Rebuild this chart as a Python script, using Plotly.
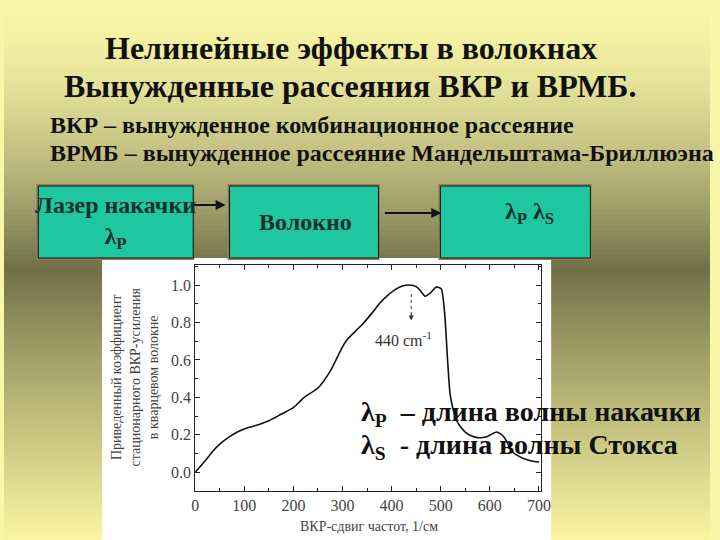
import plotly.graph_objects as go

# ---- data ----
shift = [0, 10, 20, 35, 50, 70, 90, 110, 130, 150, 175, 200, 222, 250, 275, 300, 310,
         325, 342, 360, 375, 392, 408, 422, 435, 451, 460, 468, 478, 491, 501, 508,
         514, 519, 524, 532, 541, 550, 561, 575, 594, 605, 614, 622, 630, 647, 660,
         673, 686, 700]
gain = [0.0, 0.03, 0.06, 0.11, 0.15, 0.19, 0.22, 0.24, 0.255, 0.275, 0.31, 0.345, 0.40,
        0.45, 0.54, 0.67, 0.71, 0.75, 0.795, 0.85, 0.90, 0.945, 0.977, 0.995, 1.0, 0.99,
        0.965, 0.94, 0.955, 0.99, 0.98, 0.85, 0.60, 0.42, 0.35, 0.28, 0.24, 0.215,
        0.196, 0.185, 0.19, 0.205, 0.215, 0.205, 0.185, 0.107, 0.085, 0.07, 0.06, 0.054]
x_ticks = [0, 100, 200, 300, 400, 500, 600, 700]
y_ticks = [0.0, 0.2, 0.4, 0.6, 0.8, 1.0]
peak_shift = 440

title1 = "Нелинейные эффекты в волокнах"
title2 = "Вынужденные рассеяния ВКР и ВРМБ."
sub1 = "ВКР – вынужденное комбинационное рассеяние"
sub2 = "ВРМБ – вынужденное рассеяние Мандельштама-Бриллюэна"
box_texts = ["Лазер накачки<br>λ<sub>P</sub>", "Волокно", "λ<sub>P</sub> λ<sub>S</sub>"]
legend1 = "λ<sub>P</sub>  – длина волны накачки"
legend2 = "λ<sub>S</sub>  - длина волны Стокса"
x_title = "ВКР-сдвиг частот, 1/см"
y_title = "Приведенный коэффициент<br>стационарного ВКР-усиления<br>в кварцевом волокне"

W, H = 720, 540
SERIF = "Liberation Serif"
BSERIF = "Liberation Serif, DejaVu Serif"


def px(x):
    return x / W


def py(y):
    return 1 - y / H


def lerp(c1, c2, t):
    return tuple(round(a + (b - a) * t) for a, b in zip(c1, c2))


def bfont(size, color="#111"):
    return dict(family=BSERIF, size=size, color=color, weight="bold")


light_top = (250, 246, 168)
dark = (112, 111, 72)
light_bot = (250, 245, 160)

shapes = []
# background gradient (yellow -> olive -> yellow)
n = 108
for i in range(n):
    y0 = i * H / n
    y1 = (i + 1) * H / n
    yc = (y0 + y1) / 2
    mid = 270
    if yc < mid:
        t = (yc / mid) ** 1.6
        c = lerp(light_top, dark, t)
    else:
        t = ((yc - mid) / (H - mid)) ** 0.9
        c = lerp(dark, light_bot, t)
    shapes.append(dict(type="rect", xref="paper", yref="paper", x0=0, x1=1,
                       y0=py(y1 + 0.5), y1=py(y0), fillcolor="rgb(%d,%d,%d)" % c,
                       line=dict(width=0), layer="below"))

# white panel for the chart
shapes.append(dict(type="rect", xref="paper", yref="paper", x0=px(100), x1=px(558),
                   y0=py(540), y1=py(258), fillcolor="white", line=dict(width=0),
                   layer="below"))

# boxes
boxes = [(35, 193), (230, 382), (445, 598)]
for (x0, x1) in boxes:
    shapes.append(dict(type="rect", xref="paper", yref="paper", x0=px(x0 - 2), x1=px(x1 + 1),
                       y0=py(260), y1=py(184), fillcolor="#9a7a52", line=dict(width=0),
                       layer="below"))
    shapes.append(dict(type="rect", xref="paper", yref="paper", x0=px(x0), x1=px(x1),
                       y0=py(258), y1=py(186), fillcolor="#1fc7a0",
                       line=dict(color="#111", width=1), layer="below"))

# dotted marker line for the 440 cm-1 peak
shapes.append(dict(type="line", xref="x", yref="y", x0=peak_shift, x1=peak_shift,
                   y0=0.84, y1=0.97, line=dict(color="#333", width=1, dash="dot")))

annotations = []
annotations.append(dict(text=title1, x=px(354), y=py(48), xref="paper",
                        yref="paper", showarrow=False, font=bfont(32),
                        xanchor="center", yanchor="middle"))
annotations.append(dict(text=title2, x=px(353), y=py(86), xref="paper",
                        yref="paper", showarrow=False, font=bfont(32),
                        xanchor="center", yanchor="middle"))
annotations.append(dict(text=sub1, x=px(45), y=py(125), xref="paper",
                        yref="paper", showarrow=False, font=bfont(24),
                        xanchor="left", yanchor="middle"))
annotations.append(dict(text=sub2, x=px(45), y=py(153), xref="paper",
                        yref="paper", showarrow=False, font=bfont(24),
                        xanchor="left", yanchor="middle"))

box_centers = [(114, 222), (307, 222), (536, 213)]
for (cx, cy), t in zip(box_centers, box_texts):
    annotations.append(dict(text=t, x=px(cx), y=py(cy), xref="paper",
                            yref="paper", showarrow=False,
                            font=bfont(24, "#10302a"),
                            xanchor="center", yanchor="middle"))

# arrows between boxes
for (xa, xb, yy) in [(193, 226, 205), (388, 446, 213)]:
    annotations.append(dict(text="", x=px(xb), y=py(yy), ax=-(xb - xa), ay=0,
                            xref="paper", yref="paper",
                            showarrow=True, arrowhead=2, arrowsize=1, arrowwidth=2,
                            arrowcolor="#111"))

# peak arrow head & label
annotations.append(dict(text="", x=peak_shift, y=0.81, ax=0, ay=-8, xref="x",
                        yref="y", showarrow=True, arrowhead=2,
                        arrowsize=1, arrowwidth=1, arrowcolor="#333"))
annotations.append(dict(text="440 cm<sup>-1</sup>", x=425, y=0.71, xref="x", yref="y",
                        showarrow=False, font=dict(family=SERIF, size=16, color="#333")))

# y-axis title (three lines, rotated)
annotations.append(dict(text=y_title, x=px(133), y=py(377), xref="paper", yref="paper",
                        textangle=-90, showarrow=False,
                        font=dict(family=SERIF, size=14, color="#444"),
                        xanchor="center", yanchor="middle"))
annotations.append(dict(text=x_title, x=px(372), y=py(526), xref="paper", yref="paper",
                        showarrow=False, font=dict(family=SERIF, size=14, color="#444"),
                        xanchor="center", yanchor="middle"))

# legend-like texts overlaying the chart
annotations.append(dict(text=legend1, x=px(362), y=py(413), xref="paper",
                        yref="paper", showarrow=False, font=bfont(28),
                        xanchor="left", yanchor="middle"))
annotations.append(dict(text=legend2, x=px(362), y=py(447), xref="paper",
                        yref="paper", showarrow=False, font=bfont(28),
                        xanchor="left", yanchor="middle"))

fig = go.Figure()
fig.add_trace(go.Scatter(x=shift, y=gain, mode="lines", line=dict(color="#111", width=1.6,
                                                                  shape="spline", smoothing=0.6),
                         showlegend=False, hoverinfo="skip"))

axis_common = dict(showgrid=False, zeroline=False, showline=True, linecolor="#222",
                   linewidth=1.2, mirror="ticks", ticks="inside", ticklen=5, tickcolor="#222",
                   tickfont=dict(family=SERIF, size=16, color="#444"))

fig.update_layout(
    width=W, height=H,
    margin=dict(l=0, r=0, t=0, b=0),
    paper_bgcolor="rgb(250,246,168)",
    plot_bgcolor="white",
    xaxis=dict(domain=[px(195), px(548)], range=[0, 705], tickvals=x_ticks,
               minor=dict(ticks="inside", dtick=50, ticklen=3, tickcolor="#222"),
               **axis_common),
    yaxis=dict(domain=[py(491), py(265)], range=[-0.1, 1.107], tickvals=y_ticks,
               tickformat=".1f",
               minor=dict(ticks="inside", dtick=0.1, ticklen=3, tickcolor="#222"),
               **axis_common),
    shapes=shapes,
    annotations=annotations,
)

fig.write_html("out.html", config={"displayModeBar": False},
               post_script="document.body.style.margin='0';document.body.style.overflow='hidden';")
